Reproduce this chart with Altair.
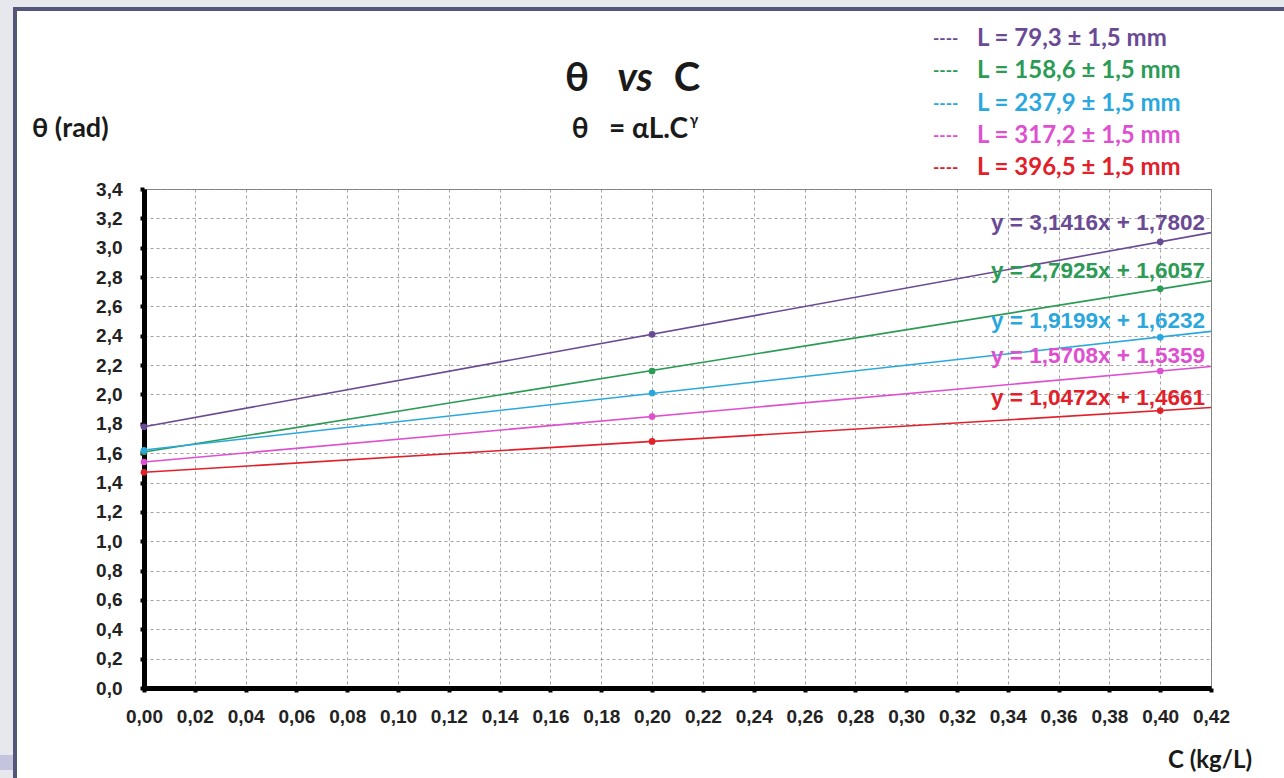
import altair as alt
import pandas as pd

# ---------------- data ----------------
series = ["L = 79,3 ± 1,5 mm", "L = 158,6 ± 1,5 mm", "L = 237,9 ± 1,5 mm",
          "L = 317,2 ± 1,5 mm", "L = 396,5 ± 1,5 mm"]
colors = ["#6a4a94", "#2b9b55", "#2aa8de", "#de50cf", "#e2202a"]
conc = [0.0, 0.2, 0.4]
theta_79 = [1.78, 2.41, 3.04]
theta_159 = [1.61, 2.16, 2.72]
theta_238 = [1.62, 2.01, 2.39]
theta_317 = [1.54, 1.85, 2.16]
theta_397 = [1.47, 1.68, 1.89]
equations = ["y = 3,1416x + 1,7802", "y = 2,7925x + 1,6057", "y = 1,9199x + 1,6232",
             "y = 1,5708x + 1,5359", "y = 1,0472x + 1,4661"]
x_ticks = [0.00, 0.02, 0.04, 0.06, 0.08, 0.10, 0.12, 0.14, 0.16, 0.18, 0.20,
           0.22, 0.24, 0.26, 0.28, 0.30, 0.32, 0.34, 0.36, 0.38, 0.40, 0.42]
y_ticks = [0.0, 0.2, 0.4, 0.6, 0.8, 1.0, 1.2, 1.4, 1.6, 1.8, 2.0,
           2.2, 2.4, 2.6, 2.8, 3.0, 3.2, 3.4]

all_theta = [theta_79, theta_159, theta_238, theta_317, theta_397]
rows = []
for s, vals in zip(series, all_theta):
    for c, t in zip(conc, vals):
        rows.append({"series": s, "C": c, "theta": t})
pts = pd.DataFrame(rows)
eq_df = pd.DataFrame({"series": series, "eq": equations})
leg_df = pd.DataFrame({"series": series})

W, H = 1067, 499
PL, PT = 144, 189
TOTAL_W, TOTAL_H = 1284, 778

color_enc = alt.Color("series:N", scale=alt.Scale(domain=series, range=colors), legend=None)

common_axis = dict(title=None, domainColor="black", domainWidth=5, tickColor="black",
                   tickWidth=4, tickSize=4, labelFont="Liberation Sans",
                   labelFontWeight="bold", labelFontSize=19, labelColor="#222",
                   gridDash=[3, 3], gridColor="#7a7a7a", gridWidth=0.7,
                   labelFlush=False, labelOverlap=False)
x_axis = alt.Axis(values=x_ticks, labelExpr="replace(format(datum.value,'.2f'),'.',',')",
                  labelPadding=15, **common_axis)
y_axis = alt.Axis(values=y_ticks, labelExpr="replace(format(datum.value,'.1f'),'.',',')",
                  labelPadding=18, tickCount=18, **common_axis)

xs = alt.Scale(domain=[0, 0.42], nice=False)
ys = alt.Scale(domain=[0, 3.4], nice=False)

X = alt.X("C:Q", scale=xs, axis=x_axis)
Y = alt.Y("theta:Q", scale=ys, axis=y_axis)

base = alt.Chart(pts)

lines = base.transform_regression(
    "C", "theta", groupby=["series"], extent=[0, 0.42]
).mark_line(strokeWidth=1.6).encode(x=X, y=Y, color=color_enc)

points = base.mark_circle(size=45, opacity=1).encode(x=X, y=Y, color=color_enc)

eq_text = base.transform_regression(
    "C", "theta", groupby=["series"], extent=[0, 0.42]
).transform_filter("datum.C > 0.415").transform_lookup(
    lookup="series", from_=alt.LookupData(eq_df, "series", ["eq"])
).mark_text(align="right", baseline="middle", dx=-6, dy=-10,
            font="Liberation Sans", fontWeight="bold", fontSize=22.5).encode(
    x=X, y=Y, text="eq:N", color=color_enc,
)

one = alt.Data(values=[{"k": 1}])


def box(x0, x1, y0, y1, fill):
    return alt.Chart(one).mark_rect(fill=fill, stroke=None).encode(
        x=alt.value(x0 - PL), x2=alt.value(x1 - PL),
        y=alt.value(y0 - PT), y2=alt.value(y1 - PT))


def label(txt, x, y, size, align="left", font="Lato", style="normal", color="#1a1a1a"):
    return alt.Chart(one).mark_text(
        text=txt, align=align, baseline="middle", font=font, fontWeight="bold",
        fontSize=size, fontStyle=style, color=color
    ).encode(x=alt.value(x - PL), y=alt.value(y - PT))


frame = [
    box(0, 13, 0, TOTAL_H, "#e7e7ee"),
    box(0, TOTAL_W, 0, 7, "#e7e7ee"),
    box(0, 13, 755, 770, "#c4c4de"),
    box(13, 17, 7, TOTAL_H, "#55557a"),
    box(13, TOTAL_W, 7, 11, "#55557a"),
]

texts = [
    label("θ", 577, 79, 40, align="center"),
    label("vs", 635, 79, 40, align="center", style="italic"),
    label("C", 687, 79, 40, align="center"),
    label("θ\u00a0\u00a0\u00a0=\u00a0αL.C", 688, 130, 28, align="right"),
    label("γ", 694, 120, 15, align="center"),
    label("θ (rad)", 32, 129, 27),
    label("C (kg/L)", 1168, 761, 24),
]

main = alt.layer(*frame, lines, points, eq_text, *texts)

leg_y = alt.Y("series:N", sort=series,
              scale=alt.Scale(domain=series, range=[39 - PT, 168 - PT], padding=0),
              axis=None)
leg_dash = alt.Chart(leg_df).mark_text(
    text="----", align="left", baseline="middle", font="Lato", fontWeight="bold", fontSize=17
).encode(x=alt.value(933 - PL), y=leg_y, color=color_enc)
leg_lab = alt.Chart(leg_df).mark_text(
    align="left", baseline="middle", font="Lato", fontWeight="bold", fontSize=24
).encode(x=alt.value(977 - PL), y=leg_y, text="series:N", color=color_enc)

chart = alt.layer(main, leg_dash, leg_lab).resolve_scale(y="independent").properties(
    width=W, height=H,
    autosize=alt.AutoSizeParams(type="none"),
    padding={"left": PL, "top": PT, "right": TOTAL_W - PL - W, "bottom": TOTAL_H - PT - H},
    background="white",
).configure_view(stroke="#8a8a8a", strokeWidth=1)

chart.save("out.html", embed_options={"renderer": "svg", "actions": False})
